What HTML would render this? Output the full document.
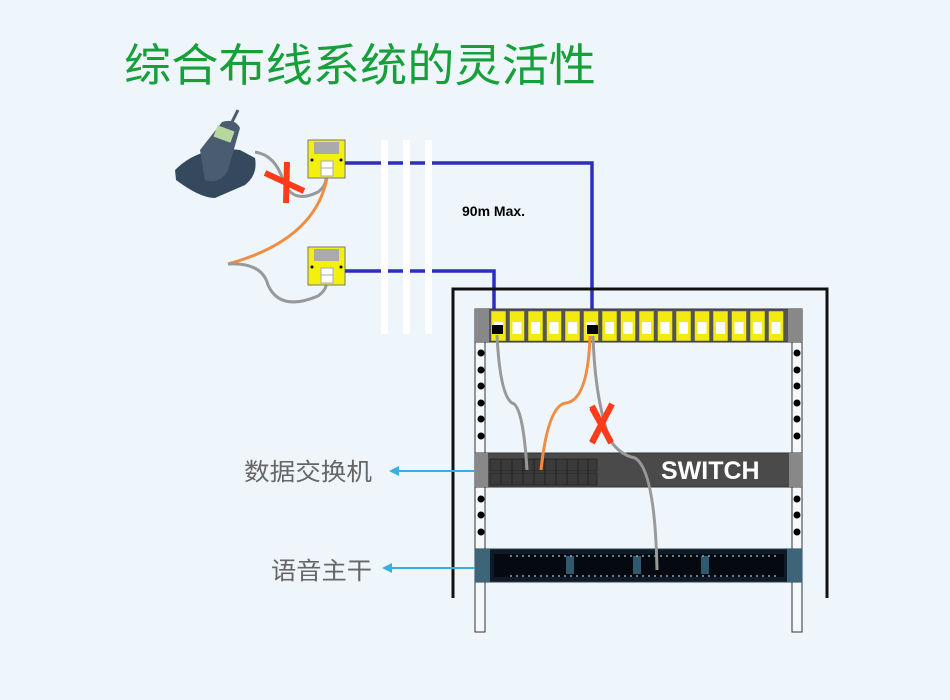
<!DOCTYPE html>
<html><head><meta charset="utf-8"><style>
html,body{margin:0;padding:0;background:#eef6fc;}
svg{display:block;}
</style></head><body>
<svg width="950" height="700" viewBox="0 0 950 700" xmlns="http://www.w3.org/2000/svg">
<rect width="950" height="700" fill="#eef6fc"/>
<text x="124" y="81" font-family="Liberation Sans, Noto Sans CJK SC, sans-serif" font-size="45" fill="#17a03a" textLength="472" lengthAdjust="spacingAndGlyphs">综合布线系统的灵活性</text>

<!-- phone -->
<g>
<path d="M175 170 Q200 145 240 150 L255 158 Q258 175 245 185 L215 198 Q200 198 176 180 Z" fill="#34495e"/>
<path d="M200 150 L222 122 Q235 118 240 128 L228 170 Q220 185 205 180 Z" fill="#4a5d70"/>
<rect x="215" y="128" width="18" height="12" fill="#b8d6a0" transform="rotate(20 224 134)"/>
<line x1="232" y1="122" x2="238" y2="110" stroke="#4a5d70" stroke-width="3"/>
</g>

<!-- cables left -->
<path d="M255 152 Q275 155 283 180 Q292 205 318 192 Q326 186 326 178" fill="none" stroke="#999" stroke-width="3"/>
<path d="M327 178 Q315 240 228 264" fill="none" stroke="#f28c40" stroke-width="3"/>
<path d="M228 264 Q262 262 268 285 Q280 312 318 296 Q326 290 326 285" fill="none" stroke="#999" stroke-width="3"/>
<g stroke="#ff3b1a" stroke-width="6" stroke-linecap="butt">
<line x1="265" y1="173" x2="304" y2="191"/><line x1="287" y1="162" x2="286" y2="203"/>
</g>
<g stroke="#ff3b1a" stroke-width="6">
<line x1="592" y1="408" x2="611" y2="442"/><line x1="612" y1="404" x2="592" y2="442"/>
</g>

<!-- wall plates -->
<g>
<rect x="308" y="140" width="37" height="38" fill="#f4f00e" stroke="#777" stroke-width="1"/>
<rect x="314" y="142" width="25" height="12" fill="#aaa"/>
<rect x="321" y="161" width="12" height="15" fill="#fff" stroke="#aaa"/>
<line x1="321" y1="168" x2="333" y2="168" stroke="#aaa"/>
<circle cx="312" cy="160" r="1.5"/><circle cx="341" cy="160" r="1.5"/>
<rect x="308" y="247" width="37" height="38" fill="#f4f00e" stroke="#777" stroke-width="1"/>
<rect x="314" y="249" width="25" height="12" fill="#aaa"/>
<rect x="321" y="268" width="12" height="15" fill="#fff" stroke="#aaa"/>
<line x1="321" y1="275" x2="333" y2="275" stroke="#aaa"/>
<circle cx="312" cy="267" r="1.5"/><circle cx="341" cy="267" r="1.5"/>
</g>

<!-- blue lines -->
<path d="M345 163 H592 V310" fill="none" stroke="#2b2ec0" stroke-width="3.5"/>
<path d="M345 271 H494 V310" fill="none" stroke="#2b2ec0" stroke-width="3.5"/>
<rect x="381" y="140" width="7" height="194" fill="#fff"/>
<rect x="403" y="140" width="7" height="194" fill="#fff"/>
<rect x="425" y="140" width="7" height="194" fill="#fff"/>
<text x="462" y="216" font-family="Liberation Sans, sans-serif" font-size="14" font-weight="bold" fill="#000">90m Max.</text>

<!-- frame -->
<path d="M453 598 V289 H827 V598" fill="none" stroke="#111" stroke-width="3"/>

<!-- rails -->
<rect x="475" y="340" width="10" height="292" fill="#f4f8fb" stroke="#333" stroke-width="1"/>
<rect x="792" y="340" width="10" height="292" fill="#f4f8fb" stroke="#333" stroke-width="1"/>
<g fill="#000">
<circle cx="481" cy="353" r="3.5"/><circle cx="481" cy="370" r="3.5"/><circle cx="481" cy="386" r="3.5"/><circle cx="481" cy="403" r="3.5"/><circle cx="481" cy="419" r="3.5"/><circle cx="481" cy="436" r="3.5"/>
<circle cx="481" cy="499" r="3.5"/><circle cx="481" cy="515" r="3.5"/><circle cx="481" cy="532" r="3.5"/>
<circle cx="797" cy="353" r="3.5"/><circle cx="797" cy="370" r="3.5"/><circle cx="797" cy="386" r="3.5"/><circle cx="797" cy="403" r="3.5"/><circle cx="797" cy="419" r="3.5"/><circle cx="797" cy="436" r="3.5"/>
<circle cx="797" cy="499" r="3.5"/><circle cx="797" cy="515" r="3.5"/><circle cx="797" cy="532" r="3.5"/>
</g>

<!-- patch panel -->
<rect x="475" y="309" width="327" height="33" fill="#555" stroke="#333"/>
<rect x="475" y="309" width="14" height="33" fill="#888"/>
<rect x="788" y="309" width="14" height="33" fill="#888"/>
<g id="ports"></g>
<g fill="#f2ea10" stroke="#555" stroke-width="0.5">
<rect x="491" y="311" width="15" height="30"/><rect x="509.5" y="311" width="15" height="30"/><rect x="528" y="311" width="15" height="30"/><rect x="546.5" y="311" width="15" height="30"/><rect x="565" y="311" width="15" height="30"/><rect x="583.5" y="311" width="15" height="30"/><rect x="602" y="311" width="15" height="30"/><rect x="620.5" y="311" width="15" height="30"/><rect x="639" y="311" width="15" height="30"/><rect x="657.5" y="311" width="15" height="30"/><rect x="676" y="311" width="15" height="30"/><rect x="694.5" y="311" width="15" height="30"/><rect x="713" y="311" width="15" height="30"/><rect x="731.5" y="311" width="15" height="30"/><rect x="750" y="311" width="15" height="30"/><rect x="768.5" y="311" width="15" height="30"/>
</g>
<g fill="#fff">
<rect x="494" y="322" width="9" height="12"/><rect x="512.5" y="322" width="9" height="12"/><rect x="531" y="322" width="9" height="12"/><rect x="549.5" y="322" width="9" height="12"/><rect x="568" y="322" width="9" height="12"/><rect x="586.5" y="322" width="9" height="12"/><rect x="605" y="322" width="9" height="12"/><rect x="623.5" y="322" width="9" height="12"/><rect x="642" y="322" width="9" height="12"/><rect x="660.5" y="322" width="9" height="12"/><rect x="679" y="322" width="9" height="12"/><rect x="697.5" y="322" width="9" height="12"/><rect x="716" y="322" width="9" height="12"/><rect x="734.5" y="322" width="9" height="12"/><rect x="753" y="322" width="9" height="12"/><rect x="771.5" y="322" width="9" height="12"/>
</g>
<rect x="492" y="325" width="11" height="9" fill="#000"/>
<rect x="587" y="325" width="11" height="9" fill="#000"/>

<!-- switch -->
<rect x="475" y="453" width="327" height="34" fill="#4a4a4a" stroke="#333"/>
<rect x="475" y="453" width="13" height="34" fill="#888"/>
<rect x="789" y="453" width="13" height="34" fill="#888"/>
<g fill="#3a3a3a" stroke="#222" stroke-width="0.8">
<rect x="490" y="459" width="107" height="12"/><rect x="490" y="473" width="107" height="12"/>
</g>
<g stroke="#222" stroke-width="1">
<line x1="501" y1="459" x2="501" y2="485"/><line x1="512" y1="459" x2="512" y2="485"/><line x1="523" y1="459" x2="523" y2="485"/><line x1="534" y1="459" x2="534" y2="485"/><line x1="545" y1="459" x2="545" y2="485"/><line x1="556" y1="459" x2="556" y2="485"/><line x1="567" y1="459" x2="567" y2="485"/><line x1="578" y1="459" x2="578" y2="485"/><line x1="588" y1="459" x2="588" y2="485"/>
</g>
<text x="661" y="479" font-family="Liberation Sans, sans-serif" font-size="25" font-weight="bold" fill="#fff">SWITCH</text>

<!-- voice panel -->
<rect x="475" y="549" width="327" height="33" fill="#0f1a26" stroke="#2a4050"/>
<rect x="475" y="549" width="15" height="33" fill="#3e6478"/>
<rect x="787" y="549" width="15" height="33" fill="#3e6478"/>
<rect x="494" y="554" width="290" height="23" fill="#050a10"/>
<g fill="#2e5a70"><rect x="566" y="556" width="8" height="18"/><rect x="633" y="556" width="8" height="18"/><rect x="701" y="556" width="8" height="18"/></g>
<line x1="510" y1="556" x2="780" y2="556" stroke="#8fa4b4" stroke-width="1.5" stroke-dasharray="2 4"/>
<line x1="510" y1="576" x2="780" y2="576" stroke="#8fa4b4" stroke-width="1.5" stroke-dasharray="2 4"/>

<!-- rack cables -->
<path d="M497 335 Q500 395 512 403 Q523 405 527 470" fill="none" stroke="#999" stroke-width="3"/>
<path d="M590 336 Q588 400 566 403 Q548 405 541 470" fill="none" stroke="#f28c40" stroke-width="3"/>
<path d="M593 336 Q595 400 610 440 Q620 455 635 458 Q655 470 657 570" fill="none" stroke="#999" stroke-width="3"/>
<g stroke="#ff3b1a" stroke-width="6">
<line x1="592" y1="406" x2="611" y2="443"/><line x1="612" y1="404" x2="592" y2="443"/>
</g>

<!-- labels -->
<text x="244" y="480" font-family="Liberation Sans, Noto Sans CJK SC, sans-serif" font-size="24" fill="#666" textLength="128" lengthAdjust="spacingAndGlyphs">数据交换机</text>
<text x="271" y="579" font-family="Liberation Sans, Noto Sans CJK SC, sans-serif" font-size="24" fill="#666" textLength="101" lengthAdjust="spacingAndGlyphs">语音主干</text>
<line x1="395" y1="471" x2="475" y2="471" stroke="#3aaee0" stroke-width="2"/>
<path d="M389 471 L399 466 L399 476 Z" fill="#3aaee0"/>
<line x1="388" y1="568" x2="475" y2="568" stroke="#3aaee0" stroke-width="2"/>
<path d="M382 568 L392 563 L392 573 Z" fill="#3aaee0"/>
</svg>
</body></html>
